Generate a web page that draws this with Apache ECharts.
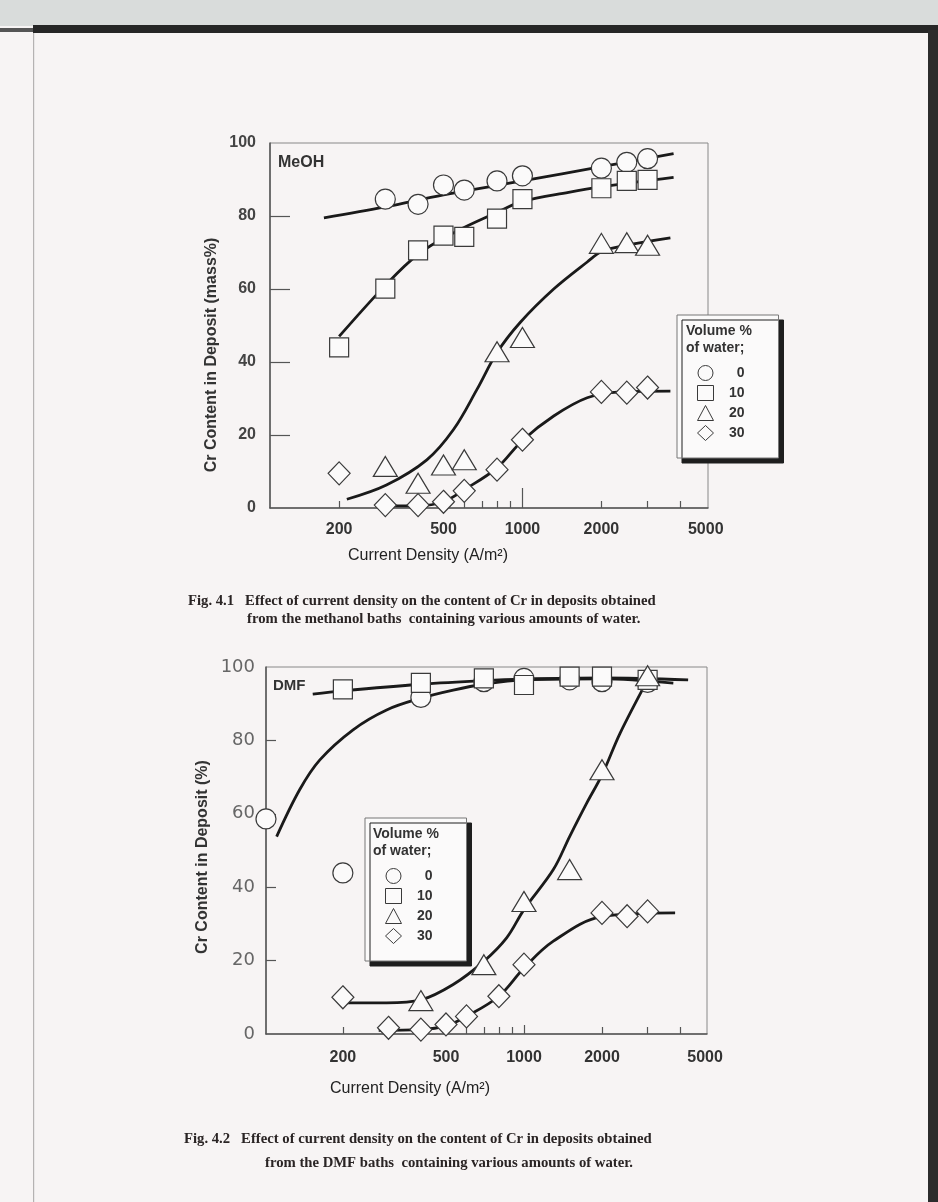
<!DOCTYPE html>
<html>
<head>
<meta charset="utf-8">
<script src="https://cdn.jsdelivr.net/npm/echarts@6/dist/echarts.min.js"></script>
<style>
  html, body { margin: 0; padding: 0; background: #f7f4f4; }
  #chart { width: 938px; height: 1202px; }
</style>
</head>
<body>
<div id="chart"></div>
<script>
// x ticks / labels (current density, A/m2)
const xLabelValues = [200, 500, 1000, 2000, 5000]
const xMinorTicks = [200, 600, 700, 800, 900, 2000, 3000, 4000]
const xMajorTicks = [1000]
const yTicks = [20, 40, 60, 80]
const legendNames = ["0", "10", "20", "30"]

// Fig 4.1 MeOH baths: measured points [current density, Cr mass%]
const meohW0 = [[300, 84.6], [400, 83.2], [500, 88.5], [600, 87.1], [800, 89.6], [1000, 91.0], [2000, 93.1], [2500, 94.7], [3000, 95.7]]
const meohW10 = [[200, 44.0], [300, 60.1], [400, 70.6], [500, 74.6], [600, 74.3], [800, 79.3], [1000, 84.6], [2000, 87.6], [2500, 89.6], [3000, 89.9]]
const meohW20 = [[300, 11.4], [400, 6.8], [500, 11.8], [600, 13.2], [800, 42.8], [1000, 46.7], [2000, 72.5], [2500, 72.7], [3000, 72.0]]
const meohW30 = [[200, 9.5], [300, 0.8], [400, 0.8], [500, 1.7], [600, 4.7], [800, 10.5], [1000, 18.7], [2000, 31.8], [2500, 31.6], [3000, 33.0]]

// Fig 4.1 hand-drawn fit curves
const meohFit0 = [[175, 79.5], [300, 82.5], [500, 85.8], [1000, 89.6], [2000, 93.5], [3770, 97.1]]
const meohFit10 = [[200, 47], [300, 61], [400, 69.5], [550, 75.5], [800, 81], [1000, 84], [1500, 86.5], [2000, 88], [3770, 90.6]]
const meohFit20 = [[214, 2.4], [303, 6.3], [432, 13.2], [546, 21.5], [671, 32.5], [800, 42.6], [982, 50.9], [1316, 60], [1766, 67.4], [2000, 70.2], [2500, 72], [3666, 74]]
const meohFit30 = [[300, 0.6], [400, 0.6], [500, 1.7], [600, 5], [800, 11], [1000, 18.5], [1316, 25.2], [1766, 30.2], [2364, 31.8], [3666, 32]]

// Fig 4.2 DMF baths: measured points
const dmfW0 = [[101, 58.6], [200, 43.9], [400, 91.7], [700, 96.0], [1000, 96.9], [1500, 96.5], [2000, 96.0], [3000, 95.8]]
const dmfW10 = [[200, 93.9], [400, 95.7], [700, 96.9], [1000, 95.1], [1500, 97.4], [2000, 97.4], [3000, 96.5]]
const dmfW20 = [[400, 9.1], [700, 18.9], [1000, 36.1], [1500, 44.8], [2000, 72.0], [3000, 97.6]]
const dmfW30 = [[200, 10.0], [300, 1.7], [400, 1.2], [500, 2.6], [600, 4.8], [800, 10.3], [1000, 18.9], [2000, 33.0], [2500, 32.1], [3000, 33.4]]

// Fig 4.2 fit curves
const dmfFit0 = [[111, 53.8], [136, 66.5], [163, 74.7], [219, 82.9], [295, 88.3], [400, 91.5], [533, 93.7], [700, 95.3], [1000, 96.5], [2000, 96.8], [3770, 95.6]]
const dmfFit10 = [[153, 92.6], [200, 93.5], [400, 95.3], [700, 96.3], [1000, 96.7], [2000, 97], [4300, 96.5]]
const dmfFit20 = [[200, 8.5], [295, 8.5], [400, 9.3], [533, 13.5], [700, 19.8], [857, 26.2], [1000, 33.9], [1298, 44.8], [1500, 53.8], [1746, 62.9], [2000, 70.6], [2350, 82], [3000, 96.5]]
const dmfFit30 = [[275, 1.0], [400, 1.2], [500, 2.2], [600, 4.8], [800, 10.3], [1000, 18], [1298, 25.3], [2000, 32], [3830, 33]]

const SANS = '"Liberation Sans", Arial, Helvetica, sans-serif'
const SERIF = '"Liberation Serif", "Times New Roman", serif'
const INK = "#333"

const chart = echarts.init(document.getElementById("chart"))

const markerStyle = { color: "#fbfafa", borderColor: "#3a3a3a", borderWidth: 1.2, opacity: 1 }
const symbols = [
  { symbol: "circle", size: 20 },
  { symbol: "rect", size: 19 },
  { symbol: "triangle", size: [24, 20] },
  { symbol: "diamond", size: [22, 23] },
]

function fitLine(data, idx) {
  return {
    type: "line",
    xAxisIndex: idx, yAxisIndex: idx,
    data,
    smooth: 0.35,
    showSymbol: false,
    silent: true,
    lineStyle: { color: "#1a1a1a", width: 2.8 },
    z: 2,
  }
}

function markers(name, data, idx, k) {
  return {
    type: "scatter",
    name,
    xAxisIndex: idx, yAxisIndex: idx,
    data,
    symbol: symbols[k].symbol,
    symbolSize: symbols[k].size,
    itemStyle: markerStyle,
    z: 3,
  }
}

function xAxisMain(gridIndex, min, max, labelMargin) {
  return {
    type: "log", logBase: 10, gridIndex, min, max, position: "bottom",
    axisLine: { lineStyle: { color: "#555", width: 1.5 } },
    axisTick: { inside: true, length: 7, customValues: xMinorTicks, lineStyle: { color: "#555", width: 1.2 } },
    axisLabel: {
      customValues: xLabelValues, formatter: (v) => String(v), margin: labelMargin,
      fontFamily: SANS, fontWeight: "bold", fontSize: 16, color: INK,
    },
    splitLine: { show: false }, minorTick: { show: false },
  }
}

// second axis on the same grid, only for the longer tick at 1000
function xAxisMajor(gridIndex, min, max, len) {
  return {
    type: "log", logBase: 10, gridIndex, min, max, position: "bottom",
    axisLine: { show: false },
    axisTick: { inside: true, length: len, customValues: xMajorTicks, lineStyle: { color: "#555", width: 1.2 } },
    axisLabel: { show: false },
    splitLine: { show: false },
  }
}

function yAxis(gridIndex, tickLen, label) {
  return {
    type: "value", gridIndex, min: 0, max: 100, interval: 20,
    axisLine: { show: true, lineStyle: { color: "#555", width: 1.5 } },
    axisTick: { show: true, inside: true, length: tickLen, customValues: yTicks, lineStyle: { color: "#555", width: 1.2 } },
    axisLabel: label,
    splitLine: { show: false },
  }
}

function legendBox(left, top) {
  return {
    left, top, orient: "vertical",
    data: legendNames,
    selectedMode: false,
    itemWidth: 16, itemHeight: 15, itemGap: 4,
    padding: [50, 34, 17, 20],
    backgroundColor: "#fbfafa",
    borderColor: "#777", borderWidth: 1,
    shadowColor: "#1e1e1e", shadowBlur: 0, shadowOffsetX: 5, shadowOffsetY: 5,
    itemStyle: { borderWidth: 1 },
    formatter: (n) => "{v|" + n + "}",
    textStyle: {
      rich: { v: { width: 26, align: "right", fontFamily: SANS, fontWeight: "bold", fontSize: 14, color: INK } },
    },
  }
}

function text(x, y, str, font, extra) {
  return {
    type: "text", x, y, z: 10,
    style: Object.assign({ text: str, font, fill: INK, verticalAlign: "middle" }, extra || {}),
  }
}

const yTitle1 = text(212, 355, "Cr Content in Deposit (mass%)", "bold 16px " + SANS, { align: "center" })
const yTitle2 = text(203, 857, "Cr Content in Deposit (%)", "bold 16px " + SANS, { align: "center" })
yTitle1.rotation = Math.PI / 2
yTitle2.rotation = Math.PI / 2

chart.setOption({
  backgroundColor: "#f7f4f4",
  animation: false,
  grid: [
    { left: 270, top: 143, width: 438, height: 365, show: true, borderColor: "#888", borderWidth: 1, backgroundColor: "transparent" },
    { left: 266, top: 667, width: 441, height: 367, show: true, borderColor: "#888", borderWidth: 1, backgroundColor: "transparent" },
  ],
  xAxis: [
    xAxisMain(0, 109, 5100, 14),
    xAxisMain(1, 101, 5085, 16),
    xAxisMajor(0, 109, 5100, 20),
    xAxisMajor(1, 101, 5085, 9),
  ],
  yAxis: [
    yAxis(0, 20, { margin: 14, fontFamily: SANS, fontWeight: "bold", fontSize: 16, color: "#444" }),
    yAxis(1, 10, { margin: 11, fontFamily: '"DejaVu Sans", sans-serif', fontWeight: "normal", fontSize: 18, color: "#666" }),
  ],
  legend: [legendBox(677, 315), legendBox(365, 818)],
  series: [
    fitLine(meohFit0, 0), fitLine(meohFit10, 0), fitLine(meohFit20, 0), fitLine(meohFit30, 0),
    markers("0", meohW0, 0, 0), markers("10", meohW10, 0, 1), markers("20", meohW20, 0, 2), markers("30", meohW30, 0, 3),
    fitLine(dmfFit0, 1), fitLine(dmfFit10, 1), fitLine(dmfFit20, 1), fitLine(dmfFit30, 1),
    markers("0", dmfW0, 1, 0), markers("10", dmfW10, 1, 1), markers("20", dmfW20, 1, 2), markers("30", dmfW30, 1, 3),
  ],
  graphic: [
    // page edges of the scanned sheet
    { type: "rect", shape: { x: 0, y: 0, width: 938, height: 26 }, style: { fill: "#d9dcdb" }, z: -1 },
    { type: "rect", shape: { x: 33, y: 25, width: 905, height: 8 }, style: { fill: "#262626" }, z: -1 },
    { type: "rect", shape: { x: 0, y: 28, width: 33, height: 4 }, style: { fill: "#555" }, z: -1 },
    { type: "rect", shape: { x: 33, y: 33, width: 1.2, height: 1169 }, style: { fill: "#b5b2b2" }, z: -1 },
    { type: "rect", shape: { x: 928, y: 30, width: 10, height: 1172 }, style: { fill: "#2c2c2c" }, z: -1 },

    text(278, 163, "MeOH", "bold 16px " + SANS),
    text(273, 686, "DMF", "bold 15px " + SANS),

    text(686, 331, "Volume %", "bold 14px " + SANS),
    text(686, 348, "of water;", "bold 14px " + SANS),
    text(373, 834, "Volume %", "bold 14px " + SANS),
    text(373, 851, "of water;", "bold 14px " + SANS),

    yTitle1, yTitle2,

    text(428, 556, "Current Density (A/m²)", "16px " + SANS, { align: "center", fill: "#222" }),
    text(410, 1089, "Current Density (A/m²)", "16px " + SANS, { align: "center", fill: "#222" }),

    text(188, 601, "Fig. 4.1   Effect of current density on the content of Cr in deposits obtained", "bold 14.7px " + SERIF, { fill: "#2a2424" }),
    text(247, 619, "from the methanol baths  containing various amounts of water.", "bold 14.7px " + SERIF, { fill: "#2a2424" }),
    text(184, 1139, "Fig. 4.2   Effect of current density on the content of Cr in deposits obtained", "bold 14.7px " + SERIF, { fill: "#2a2424" }),
    text(265, 1163, "from the DMF baths  containing various amounts of water.", "bold 14.7px " + SERIF, { fill: "#2a2424" }),
  ],
})
</script>
</body>
</html>
